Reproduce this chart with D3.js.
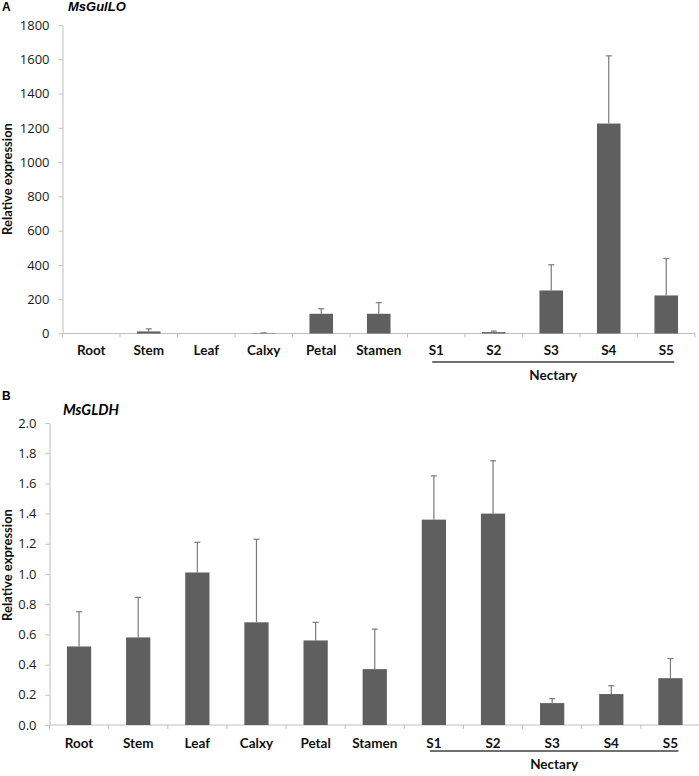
<!DOCTYPE html>
<html>
<head>
<meta charset="utf-8">
<script src="https://cdn.jsdelivr.net/npm/d3@7"></script>
<style>
  body { margin: 0; background: #fff; }
  svg { display: block; }
</style>
</head>
<body>
<svg id="chart" width="699" height="776"></svg>
<script>
// categories shared by both panels
const categories = ["Root", "Stem", "Leaf", "Calxy", "Petal", "Stamen", "S1", "S2", "S3", "S4", "S5"];
const nectaryGroup = ["S1", "S2", "S3", "S4", "S5"];

// panel A: MsGulLO
const gulloMean = [0, 12, 0, 2, 115, 115, 0, 8, 251, 1225, 222];
const gulloErr  = [0, 15, 0, 1.5, 29, 65, 0, 6, 150, 395, 216];
const gulloTicks = [0, 200, 400, 600, 800, 1000, 1200, 1400, 1600, 1800];

// panel B: MsGLDH
const gldhMean = [0.52, 0.58, 1.01, 0.68, 0.56, 0.37, 1.36, 1.40, 0.145, 0.205, 0.31];
const gldhErr  = [0.23, 0.265, 0.20, 0.55, 0.12, 0.265, 0.29, 0.35, 0.03, 0.055, 0.13];
const gldhTicks = [0, 0.2, 0.4, 0.6, 0.8, 1.0, 1.2, 1.4, 1.6, 1.8, 2.0];

const svg = d3.select("#chart");
const axisColor = "#bfbfbf";
const barColor = "#5f5f5f";

function drawPanel(opt) {
    const g = svg.append("g");

    const x = d3.scaleBand()
        .domain(categories)
        .range([opt.left, opt.right])
        .paddingInner(0);

    const y = d3.scaleLinear()
        .domain([0, opt.max])
        .range([opt.bottom, opt.top]);

    const barW = x.bandwidth() * 0.41;

    // y axis
    const yAxis = g.append("g")
        .attr("transform", `translate(${opt.left},0)`)
        .call(d3.axisLeft(y).tickValues(opt.ticks).tickSize(4).tickSizeOuter(0).tickPadding(9).tickFormat(opt.fmt));
    yAxis.select(".domain").attr("stroke", axisColor);
    yAxis.selectAll(".tick line").attr("stroke", axisColor);
    yAxis.selectAll(".tick text")
        .attr("fill", "#1a1a1a")
        .attr("font-family", "'Open Sans', sans-serif")
        .attr("font-size", 13);

    // x axis line + boundary ticks
    g.append("line")
        .attr("x1", opt.left).attr("x2", opt.right)
        .attr("y1", y(0)).attr("y2", y(0))
        .attr("stroke", axisColor);
    const bounds = categories.map(c => x(c)).concat([opt.right]);
    g.selectAll(".xtick")
        .data(bounds)
        .join("line")
        .attr("x1", d => d).attr("x2", d => d)
        .attr("y1", y(0)).attr("y2", y(0) + 4)
        .attr("stroke", axisColor);

    const xAxis = g.append("g")
        .attr("transform", `translate(0,${y(0)})`)
        .call(d3.axisBottom(x).tickSize(0).tickPadding(opt.labelPad));
    xAxis.select(".domain").remove();
    xAxis.selectAll(".tick text")
        .attr("fill", "#111")
        .attr("font-family", "Lato, sans-serif")
        .attr("font-weight", "bold")
        .attr("font-size", 13.5);

    const rows = categories.map((c, i) => ({ c, v: opt.mean[i], e: opt.err[i] }));

    // bars
    g.selectAll(".bar")
        .data(rows)
        .join("rect")
        .attr("x", d => x(d.c) + (x.bandwidth() - barW) / 2)
        .attr("width", barW)
        .attr("y", d => y(d.v))
        .attr("height", d => y(0) - y(d.v))
        .attr("fill", barColor);

    // upper error bars
    const eb = g.selectAll(".err")
        .data(rows.filter(d => d.e > 0))
        .join("g")
        .attr("stroke", "#7a7a7a")
        .attr("stroke-width", 1.2);
    eb.append("line")
        .attr("x1", d => x(d.c) + x.bandwidth() / 2)
        .attr("x2", d => x(d.c) + x.bandwidth() / 2)
        .attr("y1", d => y(d.v))
        .attr("y2", d => y(d.v + d.e));
    eb.append("line")
        .attr("x1", d => x(d.c) + x.bandwidth() / 2 - 3)
        .attr("x2", d => x(d.c) + x.bandwidth() / 2 + 3)
        .attr("y1", d => y(d.v + d.e))
        .attr("y2", d => y(d.v + d.e));

    // nectary group line and label
    const first = x(nectaryGroup[0]) + x.bandwidth() / 2;
    const last = x(nectaryGroup[nectaryGroup.length - 1]) + x.bandwidth() / 2;
    g.append("line")
        .attr("x1", first - 4).attr("x2", last + 8)
        .attr("y1", opt.lineY).attr("y2", opt.lineY)
        .attr("stroke", "#404040")
        .attr("stroke-width", 1.5);
    g.append("text")
        .attr("x", (first + last) / 2 + 2)
        .attr("y", opt.lineY + 18)
        .attr("text-anchor", "middle")
        .attr("font-family", "Lato, sans-serif")
        .attr("font-weight", "bold")
        .attr("font-size", 13.5)
        .attr("fill", "#111")
        .text("Nectary");

    // y label
    g.append("text")
        .attr("transform", `translate(${opt.ylabX},${opt.ylabY}) rotate(-90)`)
        .attr("text-anchor", "middle")
        .attr("font-family", "Lato, sans-serif")
        .attr("font-weight", "bold")
        .attr("font-size", 13)
        .attr("fill", "#111")
        .text("Relative expression");

    // panel letter and gene name
    g.append("text")
        .attr("x", 2).attr("y", opt.letterY)
        .attr("font-family", "'Liberation Sans', Arial, sans-serif")
        .attr("font-weight", "bold")
        .attr("font-size", 12)
        .text(opt.letter);
    g.append("text")
        .attr("x", opt.titleX).attr("y", opt.titleY)
        .attr("font-family", opt.titleFont)
        .attr("font-weight", "bold")
        .attr("font-style", "italic")
        .attr("font-size", opt.titleSize)
        .text(opt.title);
}

drawPanel({
    left: 62.5, right: 695, top: 25, bottom: 333.5,
    max: 1800, ticks: gulloTicks, fmt: d3.format("d"),
    mean: gulloMean, err: gulloErr,
    labelPad: 12, lineY: 362,
    ylabX: 12, ylabY: 179,
    letter: "A", letterY: 11,
    title: "MsGulLO", titleX: 68, titleY: 11, titleSize: 13,
    titleFont: "'Liberation Sans', Arial, sans-serif"
});

drawPanel({
    left: 49.5, right: 700, top: 423, bottom: 725,
    max: 2.0, ticks: gldhTicks, fmt: d3.format(".1f"),
    mean: gldhMean, err: gldhErr,
    labelPad: 13, lineY: 751,
    ylabX: 12, ylabY: 565,
    letter: "B", letterY: 400,
    title: "MsGLDH", titleX: 63, titleY: 415, titleSize: 14.5,
    titleFont: "Lato, sans-serif"
});
</script>
</body>
</html>
